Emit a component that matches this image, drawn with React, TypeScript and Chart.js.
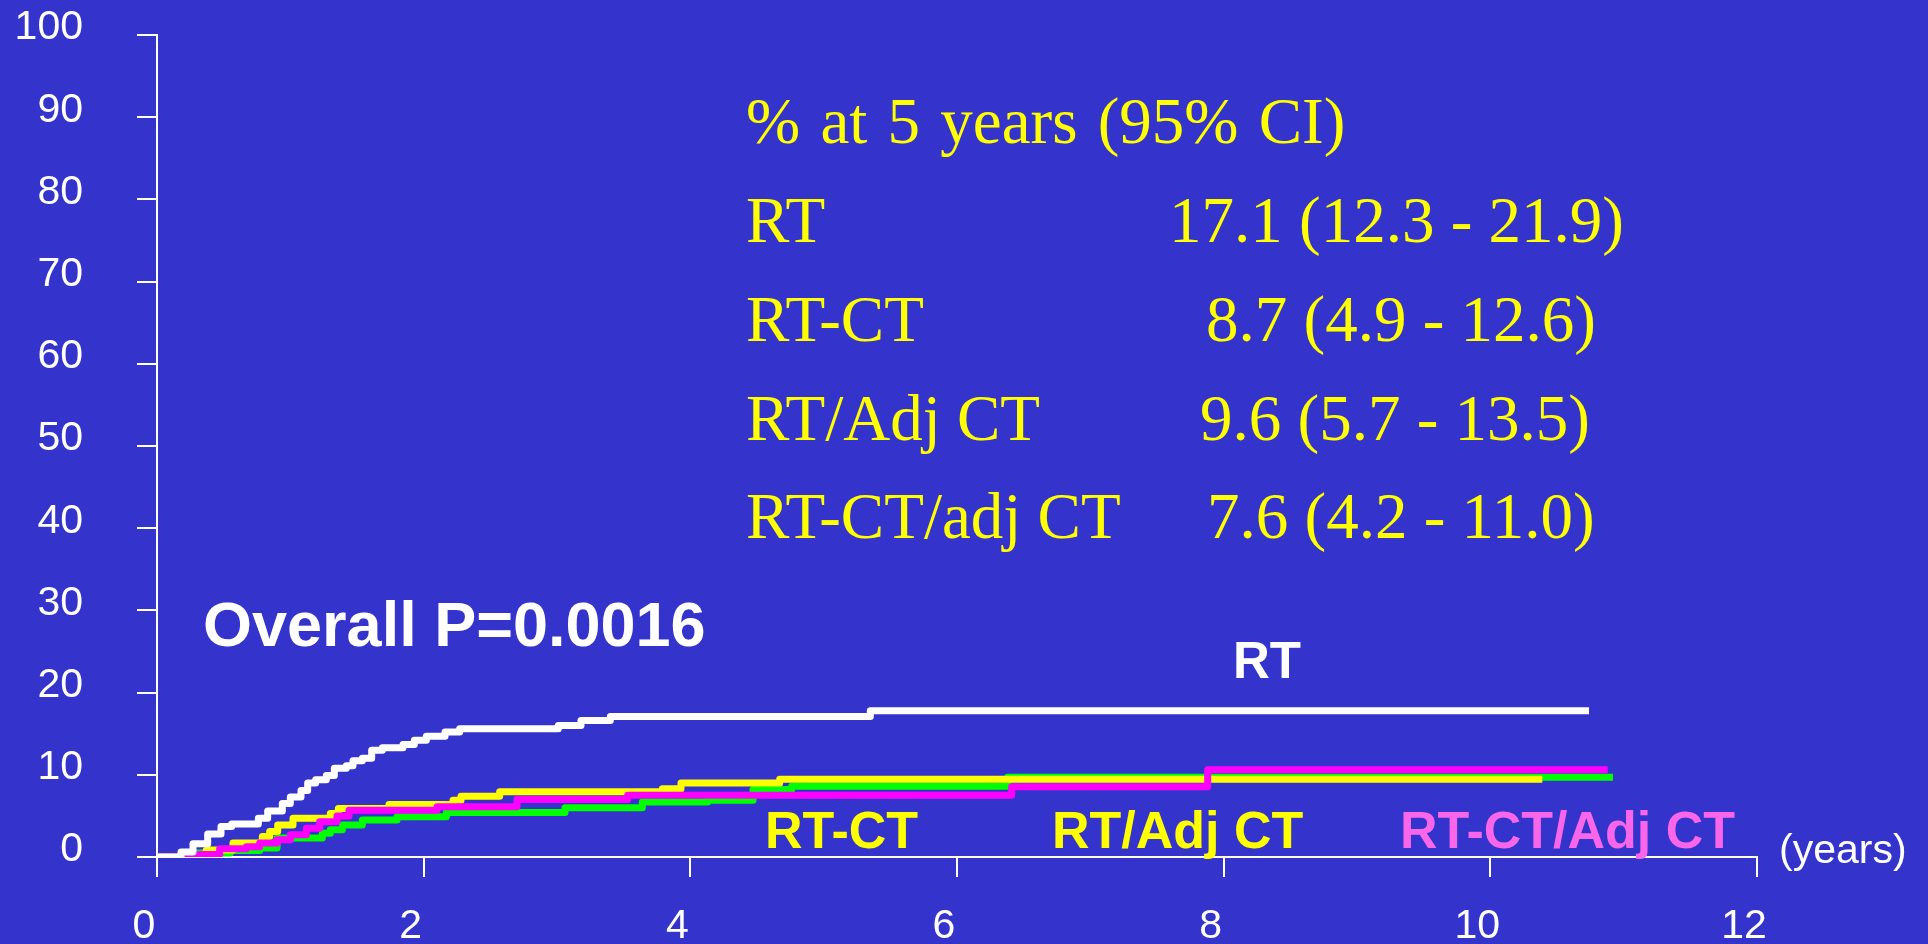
import React, { useEffect, useRef } from 'react';
import { Chart, registerables } from 'chart.js';

Chart.register(...registerables);

// ---- data (years, cumulative %) ----
const rtTimes = [0, 0.18, 0.27, 0.38, 0.48, 0.56, 0.76, 0.83, 0.94, 1.0, 1.08, 1.13, 1.19, 1.27, 1.33, 1.42, 1.47, 1.54, 1.61, 1.69, 1.845, 1.93, 2.02, 2.16, 2.27, 3.01, 3.18, 3.40, 5.35, 10.74];
const rtValues = [0, 0.6, 1.6, 2.8, 3.7, 4.0, 4.7, 5.6, 6.5, 7.3, 8.1, 9.0, 9.4, 9.9, 10.8, 11.1, 11.7, 12.0, 13.0, 13.3, 13.7, 14.2, 14.7, 15.2, 15.6, 16.0, 16.6, 17.1, 17.8, 17.8];

const rtctTimes = [0, 0.2, 0.55, 0.77, 0.9, 1.24, 1.3, 1.39, 1.54, 1.8, 2.17, 3.06, 3.64, 4.13, 4.47, 4.76, 6.38, 10.92];
const rtctValues = [0, 0.5, 0.8, 1.1, 2.3, 2.9, 3.3, 3.9, 4.5, 4.9, 5.4, 6.0, 6.7, 6.9, 8.2, 8.6, 9.7, 9.7];

const rtAdjTimes = [0, 0.37, 0.57, 0.79, 0.845, 0.905, 1.02, 1.30, 1.36, 1.74, 2.22, 2.28, 2.57, 3.79, 3.93, 4.67, 10.39];
const rtAdjValues = [0, 0.85, 1.7, 2.5, 3.1, 3.9, 4.7, 5.3, 5.9, 6.4, 6.9, 7.4, 7.95, 8.3, 9.0, 9.45, 9.45];

const rtctAdjTimes = [0, 0.27, 0.47, 0.67, 0.77, 0.9, 1.0, 1.12, 1.22, 1.35, 1.44, 2.1, 2.7, 3.53, 6.41, 7.88, 10.88];
const rtctAdjValues = [0, 0.3, 1.0, 1.25, 1.7, 2.1, 2.7, 3.5, 4.3, 5.0, 5.7, 6.1, 7.0, 7.5, 8.55, 10.6, 10.6];

const tableHeader = '% at 5 years (95% CI)';
const tableGroups = ['RT', 'RT-CT', 'RT/Adj CT', 'RT-CT/adj CT'];
const tableValues = ['17.1 (12.3 - 21.9)', '8.7 (4.9 - 12.6)', '9.6 (5.7 - 13.5)', '7.6 (4.2 - 11.0)'];

const pValueText = 'Overall P=0.0016';
const xUnitText = '(years)';

const X_MIN = 0;
const X_MAX = 12;
const X_STEP = 2;
const Y_MIN = 0;
const Y_MAX = 100;
const Y_STEP = 10;

const BG = '#3434cc';

function pairs(ts: number[], vs: number[]) {
  return ts.map((t, i) => ({ x: t, y: vs[i] }));
}

const textPlugin = {
  id: 'texts',
  beforeDraw(chart: any) {
    const ctx = chart.ctx;
    ctx.save();
    ctx.fillStyle = BG;
    ctx.fillRect(0, 0, chart.width, chart.height);
    ctx.restore();
  },
  afterDraw(chart: any) {
    const ctx = chart.ctx;
    ctx.save();
    ctx.textBaseline = 'alphabetic';
    ctx.textAlign = 'left';

    // table
    ctx.fillStyle = '#ffff00';
    ctx.font = '65px "Liberation Serif", "Times New Roman", serif';
    (ctx as any).wordSpacing = '4px';
    ctx.fillText(tableHeader, 746, 143);
    (ctx as any).wordSpacing = '0px';
    const baselines = [242, 341, 440, 538];
    const valueX = [1169, 1206, 1200, 1207];
    tableGroups.forEach((g, i) => {
      ctx.fillText(g, 746, baselines[i]);
      ctx.fillText(tableValues[i], valueX[i], baselines[i]);
    });

    // p value
    ctx.fillStyle = '#ffffff';
    ctx.font = 'bold 63px "Liberation Sans", Arial, sans-serif';
    ctx.fillText(pValueText, 203, 646);

    // curve labels
    ctx.font = 'bold 51px "Liberation Sans", Arial, sans-serif';
    ctx.fillStyle = '#ffffff';
    ctx.fillText('RT', 1233, 678);
    ctx.font = 'bold 52px "Liberation Sans", Arial, sans-serif';
    ctx.fillStyle = '#ffff00';
    ctx.fillText('RT-CT', 765, 848);
    ctx.fillText('RT/Adj CT', 1052, 848);
    ctx.fillStyle = '#f966ea';
    ctx.fillText('RT-CT/Adj CT', 1400, 848);

    // axis unit
    ctx.fillStyle = '#ffffff';
    ctx.font = '41px "Liberation Sans", Arial, sans-serif';
    ctx.fillText(xUnitText, 1779, 863);
    ctx.restore();
  },
};

export default function App() {
  const ref = useRef<HTMLCanvasElement | null>(null);

  useEffect(() => {
    document.body.style.margin = '0';
    document.body.style.overflow = 'hidden';
    document.body.style.background = BG;
    const canvas = ref.current;
    if (!canvas) return;
    const ds = (label: string, ts: number[], vs: number[], color: string) => ({
      label,
      data: pairs(ts, vs),
      borderColor: color,
      backgroundColor: color,
      borderWidth: 7,
      stepped: 'before' as const,
      pointRadius: 0,
      fill: false,
      borderCapStyle: 'butt' as const,
      borderJoinStyle: 'round' as const,
    });
    const chart = new Chart(canvas, {
      type: 'line',
      data: {
        datasets: [
          ds('RT', rtTimes, rtValues, '#ffffff'),
          ds('RT-CT/Adj CT', rtctAdjTimes, rtctAdjValues, '#ff00ff'),
          ds('RT/Adj CT', rtAdjTimes, rtAdjValues, '#ffff00'),
          ds('RT-CT', rtctTimes, rtctValues, '#00ff00'),
        ],
      },
      options: {
        animation: false,
        responsive: false,
        devicePixelRatio: 1,
        layout: { padding: { left: 0, right: 171, top: 35, bottom: 0 } },
        plugins: {
          legend: { display: false },
          tooltip: { enabled: false },
        },
        scales: {
          x: {
            type: 'linear',
            min: X_MIN,
            max: X_MAX,
            afterFit: (s: any) => { s.height = 87; s.paddingLeft = 0; s.paddingRight = 0; },
            ticks: {
              stepSize: X_STEP,
              color: '#ffffff',
              font: { family: '"Liberation Sans", Arial, sans-serif', size: 41 },
              padding: 25,
              labelOffset: -13,
              maxRotation: 0,
            },
            grid: { display: true, drawOnChartArea: false, drawTicks: true, tickLength: 20, color: '#ffffff', lineWidth: 2 },
            border: { display: true, color: '#ffffff', width: 2 },
          },
          y: {
            type: 'linear',
            min: Y_MIN,
            max: Y_MAX,
            afterFit: (s: any) => { s.width = 157; s.paddingTop = 0; s.paddingBottom = 0; },
            ticks: {
              stepSize: Y_STEP,
              color: '#ffffff',
              font: { family: '"Liberation Sans", Arial, sans-serif', size: 41 },
              padding: 54,
              labelOffset: -7,
            },
            grid: { display: true, drawOnChartArea: false, drawTicks: true, tickLength: 20, color: '#ffffff', lineWidth: 2 },
            border: { display: true, color: '#ffffff', width: 2 },
          },
        },
      },
      plugins: [textPlugin],
    });
    return () => chart.destroy();
  }, []);

  return (
    <div style={{ position: 'absolute', left: 0, top: 0, width: 1928, height: 944, background: BG }}>
      <canvas ref={ref} width={1928} height={944} style={{ display: 'block', width: 1928, height: 944 }} />
    </div>
  );
}
